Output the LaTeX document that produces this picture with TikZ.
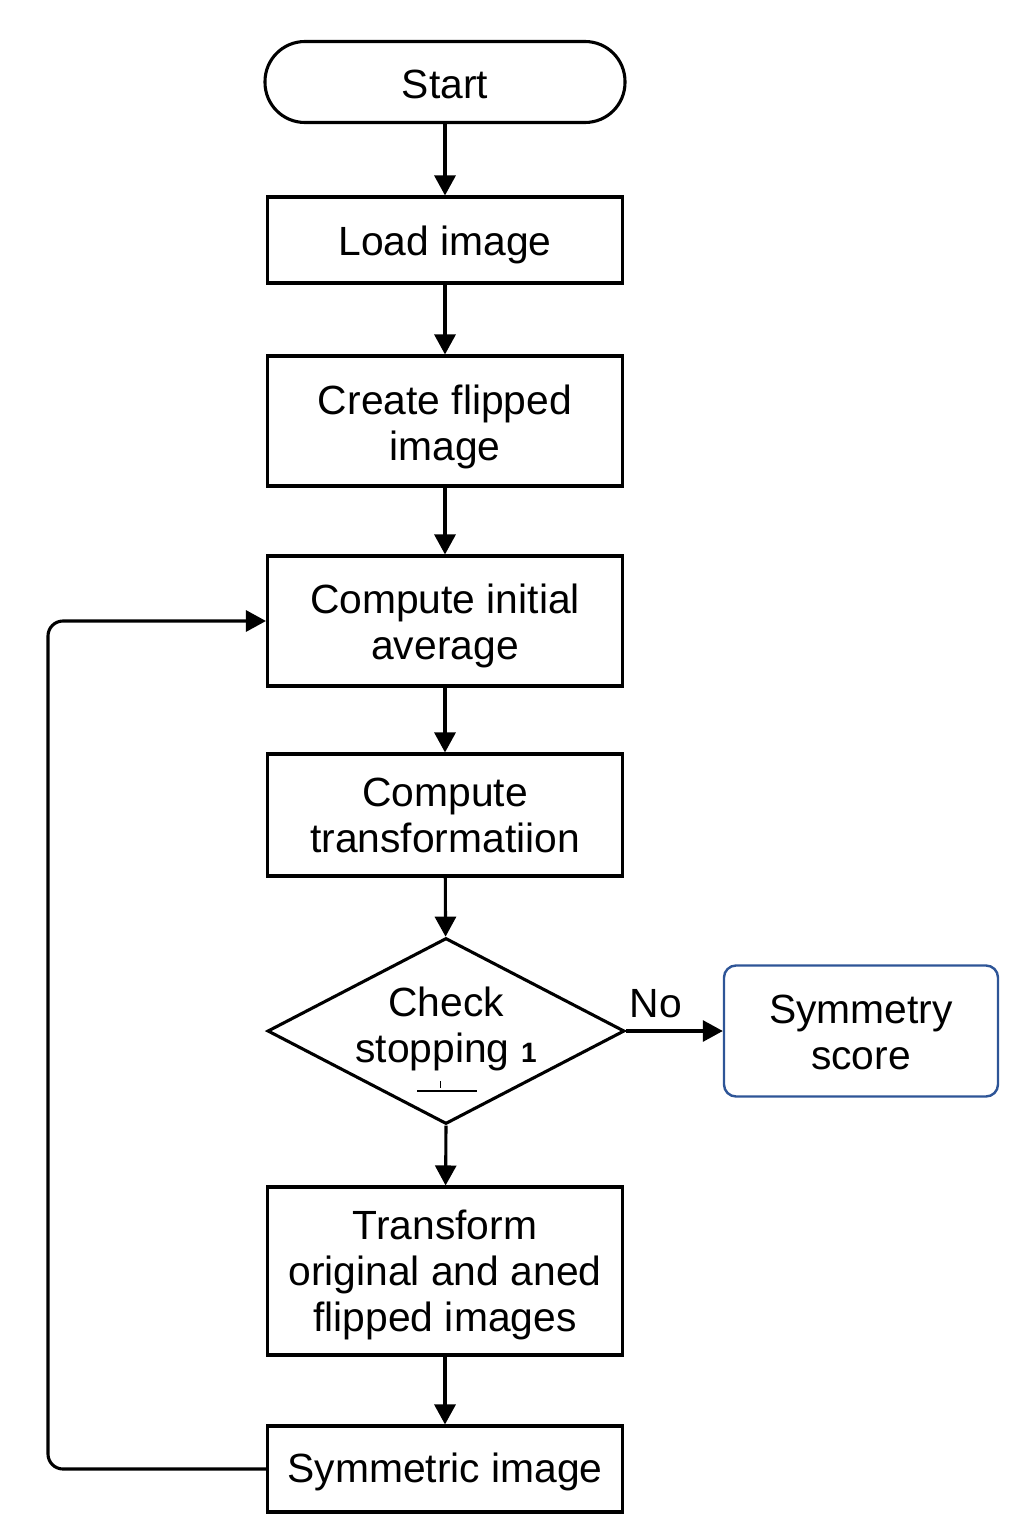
\documentclass[tikz,border=0pt]{standalone}
\usepackage{fontspec}
\setmainfont{Liberation Sans}
\usetikzlibrary{shapes.geometric,arrows.meta}
\definecolor{boxblue}{HTML}{2E5597}
\begin{document}
\begin{tikzpicture}[x=1pt,y=-1pt,
  every node/.style={font=\fontsize{40.8}{46}\selectfont, align=center, inner sep=0pt},
  txt/.style 2 args={label={[yshift=#1]center:{#2}}},
  proc/.style={draw, line width=3.1pt, minimum width=355pt},
  term/.style={draw, line width=3.1pt, rounded corners=40pt, minimum width=360pt, minimum height=81pt},
  dec/.style={draw, line width=3.1pt, diamond, minimum width=357pt, minimum height=186pt, aspect=1.92},
  outbox/.style={draw=boxblue, line width=2.4pt, rounded corners=12pt, minimum width=274pt, minimum height=131pt},
  arr/.style={line width=3.1pt, -{Triangle[length=20pt,width=21pt]}},
  loop/.style={line width=3.1pt, rounded corners=15pt, -{Triangle[length=20pt,width=21pt]}}]
\useasboundingbox (0,0) rectangle (1024,1536);
\node[term, txt={-2pt}{Start}] (start) at (445,82) {};
\node[proc, minimum height=86pt, txt={-5pt}{Load image}] (load) at (445,240) {};
\node[proc, minimum height=130pt, txt={-6pt}{Create flipped\\image}] (flip) at (445,421) {};
\node[proc, minimum height=130pt, txt={-5pt}{Compute initial\\average}] (avg) at (445,621) {};
\node[proc, minimum height=122pt, txt={0pt}{Compute\\transformatiion}] (trans) at (445,815) {};
\node[dec] (check) at (446,1031) {};
\node (checktxt) at (446,1029) {Check\\stopping {\fontsize{28}{46}\selectfont\bfseries 1}};
\coordinate (ul) at (417,1091);
\coordinate (ur) at (477,1091);
\draw[line width=1.6pt] (ul) -- (ur);
\coordinate (tk) at (440,1081);
\draw[line width=0.8pt] (tk) -- ++(0,7);
\node[outbox, txt={-1pt}{Symmetry\\score}] (score) at (861,1031) {};
\node[proc, minimum height=168pt, txt={-4pt}{Transform\\original and aned\\flipped images}] (tform) at (445,1271) {};
\node[proc, minimum height=86pt, txt={-3pt}{Symmetric image}] (sym) at (445,1469) {};
\node (no) at (656,1004) {No};
\draw[arr] (start) -- (load);
\draw[arr] (load) -- (flip);
\draw[arr] (flip) -- (avg);
\draw[arr] (avg) -- (trans);
\draw[arr] (trans) -- (check);
\draw[arr] (check.east) -- (score.west);
\draw[arr] (check.south) -- (tform);
\draw[arr] (tform) -- (sym);
\coordinate (lx) at (48,0);
\draw[loop] (sym.west) -- (lx |- sym.west) -- (lx |- avg.west) -- (avg.west);
\end{tikzpicture}
\end{document}
